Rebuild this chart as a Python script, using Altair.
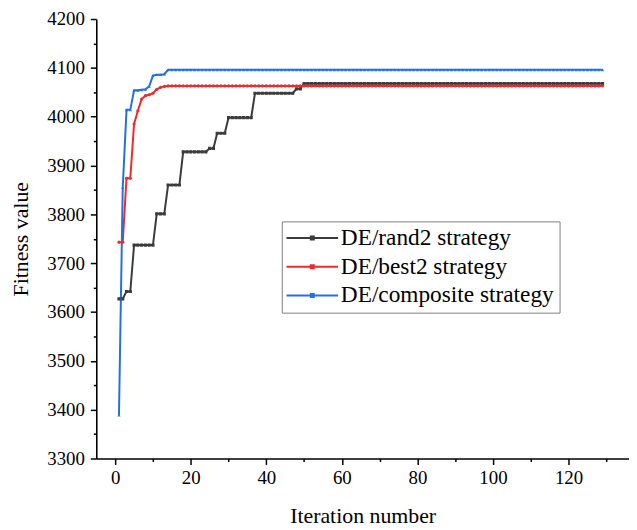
import altair as alt
import pandas as pd

# ---- data ----
iterations = list(range(1, 130))

series_names = ["DE/rand2 strategy", "DE/best2 strategy", "DE/composite strategy"]

rand2 = [3627, 3627, 3642, 3642, 3737, 3737, 3737, 3737, 3737, 3737,
         3801, 3801, 3801, 3860, 3860, 3860, 3860, 3928, 3928, 3928,
         3928, 3928, 3928, 3928, 3935, 3935, 3966, 3966, 3966, 3998,
         3998, 3998, 3998, 3998, 3998, 3998, 4048, 4048, 4048, 4048,
         4048, 4048, 4048, 4048, 4048, 4048, 4048, 4057, 4057] + [4068] * 80

best2 = [3743, 3743, 3874, 3874, 3985, 4012, 4036, 4043, 4045, 4048,
         4056, 4060, 4062] + [4063] * 116

composite = [3389, 3855, 4014, 4014, 4054, 4054, 4055, 4056, 4062, 4084,
             4086, 4086, 4087] + [4096] * 116

x_ticks = [0, 20, 40, 60, 80, 100, 120]
x_minor = [10, 30, 50, 70, 90, 110, 130]
y_ticks = [3300, 3400, 3500, 3600, 3700, 3800, 3900, 4000, 4100, 4200]
y_minor = [3350, 3450, 3550, 3650, 3750, 3850, 3950, 4050, 4150]

colors = ["#3b3b3b", "#ee2a2c", "#2471db"]
shapes = ["square", "circle", "triangle-up"]

df = pd.DataFrame({
    "iteration": iterations * 3,
    "fitness": rand2 + best2 + composite,
    "series": [s for s in series_names for _ in iterations],
})

FONT = "Liberation Serif"

x_scale = alt.Scale(domain=[-5, 136], nice=False, zero=False)
y_scale = alt.Scale(domain=[3300, 4200], nice=False, zero=False)
color_scale = alt.Scale(domain=series_names, range=colors)

legend = alt.Legend(
    title=None,
    orient="none",
    legendX=187,
    legendY=204,
    symbolType="M-5.2,0H5.2M-0.3,-0.3H0.3V0.3H-0.3Z",
    symbolSize=100,
    symbolStrokeWidth=2,
    symbolOffset=14,
    labelOffset=17,
    labelFont=FONT,
    labelFontSize=23.5,
    labelColor="black",
    labelLimit=400,
    rowPadding=4,
    padding=5,
    strokeColor="#808080",
    fillColor="white",
    cornerRadius=0,
)

axis_common = dict(labelFont=FONT, labelFontSize=19, labelColor="black",
                   titleFont=FONT, titleFontSize=22, titleFontWeight="normal",
                   titleColor="black", domainColor="black", domainWidth=1.6,
                   tickColor="black", tickWidth=1.5, grid=False)

lines = alt.Chart(df).mark_line(strokeWidth=2, clip=True).encode(
    x=alt.X("iteration:Q", scale=x_scale,
            axis=alt.Axis(values=x_ticks, title="Iteration number", orient="bottom",
                          format="d", tickSize=6, labelPadding=4, titlePadding=19,
                          **axis_common)),
    y=alt.Y("fitness:Q", scale=y_scale,
            axis=alt.Axis(values=y_ticks, title="Fitness value", orient="left",
                          format="d", tickSize=6, labelPadding=6, titlePadding=14,
                          **axis_common)),
    color=alt.Color("series:N", scale=color_scale, legend=legend, sort=series_names),
)

points = alt.Chart(df).mark_point(filled=True, size=10, opacity=1, clip=True).encode(
    x=alt.X("iteration:Q", scale=x_scale,
            axis=alt.Axis(values=x_minor, labels=False, domain=False, tickSize=3,
                          tickColor="black", tickWidth=1.5,
                          title=None, orient="bottom", grid=False)),
    y=alt.Y("fitness:Q", scale=y_scale,
            axis=alt.Axis(values=y_minor, labels=False, domain=False, tickSize=3,
                          tickColor="black", tickWidth=1.5,
                          title=None, orient="left", grid=False)),
    color=alt.Color("series:N", scale=color_scale, legend=None),
    shape=alt.Shape("series:N", scale=alt.Scale(domain=series_names, range=shapes), legend=None),
)

chart = (
    alt.layer(lines, points)
    .resolve_axis(x="independent", y="independent")
    .resolve_legend(color="independent", shape="independent")
    .properties(width=537, height=443, autosize="none",
                padding={"left": 89, "top": 9, "right": 0, "bottom": 72})
    .configure(font=FONT)
    .configure_axis(labelFont=FONT, titleFont=FONT)
    .configure_view(stroke=None)
)

chart.save("out.html", embed_options={"renderer": "svg", "actions": False})
